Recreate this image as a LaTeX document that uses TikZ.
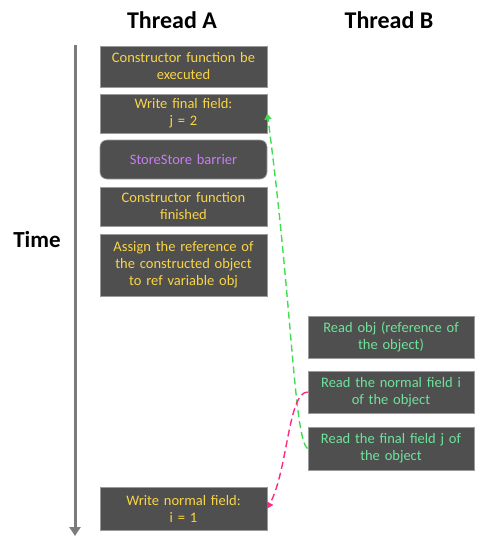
\documentclass[tikz,border=0pt]{standalone}
\usepackage{fontspec}
\setmainfont{Carlito}
\usetikzlibrary{arrows.meta}
\definecolor{boxfill}{HTML}{4F4F4F}
\definecolor{boxline}{HTML}{9A9A9A}
\definecolor{writeyellow}{HTML}{F9D545}
\definecolor{barrierpurple}{HTML}{C77DF3}
\definecolor{readgreen}{HTML}{6EE39A}
\definecolor{finalgreen}{HTML}{3FDD4F}
\definecolor{normalpink}{HTML}{FF2A7F}
\begin{document}
\begin{tikzpicture}[x=1pt,y=-1pt,
    opbox/.style={draw=boxline, line width=0.6pt, fill=boxfill, align=center, inner sep=0pt,
      font=\fontsize{14.5}{17}\selectfont},
    abox/.style={opbox, text=writeyellow, minimum width=167pt, text width=163pt},
    bbox/.style={opbox, text=readgreen, minimum width=166pt, text width=163pt},
    title/.style={font=\fontsize{24}{26}\selectfont\bfseries},
    dasharrow/.style={line width=1.4pt, dash pattern=on 7pt off 4pt, -{Triangle[width=7pt,length=6pt]}}]
    \useasboundingbox (0,0) rectangle (488,544);

    % titles
    \node[title] (ta) at (172,20) {Thread A};
    \node[title] (tb) at (389,20) {Thread B};
    \node[title, font=\fontsize{23}{26}\selectfont\bfseries] (time) at (37,240) {Time};

    % time axis
    \coordinate (t0) at (75,45);
    \coordinate (t1) at (75,536);
    \draw[boxline!80!black, line width=3pt, -{Triangle[width=11pt,length=9pt]}] (t0) -- (t1);

    % thread A
    \node[abox, minimum height=41pt] (a1) at (183.5,66.5) {Constructor function be\\executed};
    \node[abox, minimum height=39pt] (a2) at (183.5,113.5) {Write final field:\\j = 2};
    \node[abox, minimum height=39pt, rounded corners=7pt, text=barrierpurple] (a3) at (183.5,159.5) {StoreStore barrier};
    \node[abox, minimum height=39pt] (a4) at (183.5,206.5) {Constructor function\\finished};
    \node[abox, minimum height=62pt] (a5) at (183.5,265) {Assign the reference of\\the constructed object\\to ref variable obj};
    \node[abox, minimum height=43pt] (a6) at (183.5,508.5) {Write normal field:\\i = 1};

    % thread B
    \node[bbox, minimum height=42pt] (b1) at (391,337) {Read obj (reference of\\the object)};
    \node[bbox, minimum height=42pt] (b2) at (391,392) {Read the normal field i\\of the object};
    \node[bbox, minimum height=43pt] (b3) at (391,448.5) {Read the final field j of\\the object};

    % reads
    \draw[dasharrow, finalgreen] (b3.west) .. controls (294,440) and (292,300) .. (a2.east);
    \draw[dasharrow, normalpink] (b2.west) .. controls (288,392) and (288,470) .. (a6.east);
\end{tikzpicture}
\end{document}
